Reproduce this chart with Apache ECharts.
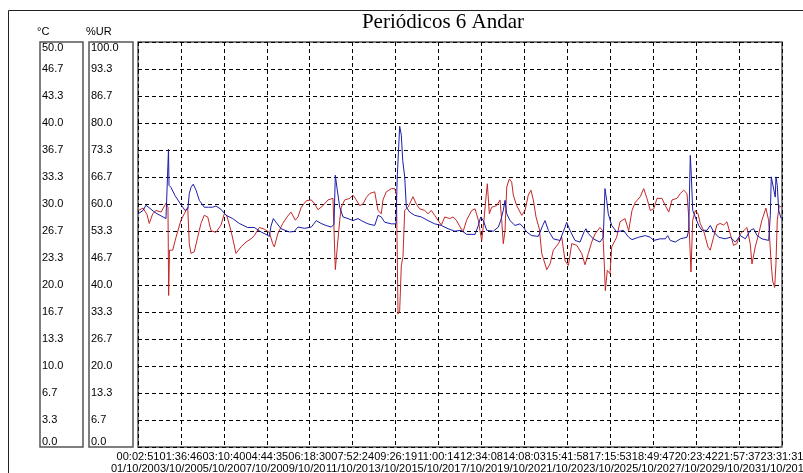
<!DOCTYPE html>
<html>
<head>
<meta charset="utf-8">
<title>Periódicos 6 Andar</title>
<script src="https://cdn.jsdelivr.net/npm/echarts@6/dist/echarts.min.js"></script>
<style>
html, body { margin: 0; padding: 0; background: #fff; }
#chart { width: 803px; height: 473px; }
</style>
</head>
<body>
<div id="chart"></div>
<script>
// x = hours since 01/10 00:02:51, last sample 31/10 23:31:31
var spanHours = 743.478;

var timeLabels = ['00:02:51', '01:36:46', '03:10:40', '04:44:35', '06:18:30', '07:52:24', '09:26:19', '11:00:14',
  '12:34:08', '14:08:03', '15:41:58', '17:15:53', '18:49:47', '20:23:42', '21:57:37', '23:31:31'];
var dateLabels = ['01/10/2011', '03/10/2011', '05/10/2011', '07/10/2011', '09/10/2011', '11/10/2011', '13/10/2011', '15/10/2011',
  '17/10/2011', '19/10/2011', '21/10/2011', '23/10/2011', '25/10/2011', '27/10/2011', '29/10/2011', '31/10/2011'];
var tempTicks = ['0.0', '3.3', '6.7', '10.0', '13.3', '16.7', '20.0', '23.3', '26.7', '30.0', '33.3', '36.7', '40.0', '43.3', '46.7', '50.0'];
var humTicks = ['0.0', '6.7', '13.3', '20.0', '26.7', '33.3', '40.0', '46.7', '53.3', '60.0', '66.7', '73.3', '80.0', '86.7', '93.3', '100.0'];

// temperatura (°C)
var tempData = [[0.3,29.2],[5.8,29.5],[10.4,28.7],[13.0,27.6],[17.0,28.8],[20.8,29.2],[26.6,29.0],[32.3,30.1],[34.6,29.6],[35.4,18.7],
  [36.4,24.3],[40.1,24.3],[43.9,25.9],[49.6,28.0],[53.5,28.8],[57.4,29.6],[59.2,25.1],[61.2,23.9],[65.0,24.1],[68.9,25.9],
  [72.7,27.6],[76.5,28.6],[80.5,28.4],[84.3,26.7],[90.0,26.5],[95.8,27.4],[99.6,28.8],[102.4,28.6],[107.4,26.7],[113.1,23.9],
  [118.9,24.7],[124.7,25.3],[130.5,25.7],[134.3,26.1],[140.0,27.1],[145.8,26.9],[151.6,26.5],[155.5,25.1],[157.4,24.7],[161.3,26.3],
  [167.1,27.6],[172.8,28.5],[176.6,29.0],[181.6,28.0],[184.7,28.4],[188.5,29.6],[194.3,30.4],[200.1,30.5],[204.0,30.0],[207.8,29.3],
  [213.6,29.8],[219.3,30.5],[225.1,30.7],[227.8,21.9],[230.1,24.7],[232.9,28.0],[234.7,29.6],[238.6,30.5],[244.4,30.7],[248.2,31.1],
  [252.0,30.5],[255.9,29.8],[259.7,30.0],[263.6,30.8],[267.5,31.3],[273.3,31.5],[277.1,29.2],[280.9,28.8],[282.8,30.5],[286.6,31.5],
  [292.4,31.9],[296.4,31.9],[298.4,31.1],[300.2,16.4],[302.1,16.8],[304.0,22.4],[305.9,23.5],[307.9,29.2],[311.7,29.6],[317.5,30.9],
  [321.3,30.0],[325.2,29.4],[331.0,29.2],[334.8,28.8],[338.6,29.2],[342.5,28.6],[346.3,28.0],[350.2,27.4],[354.1,28.4],[359.9,28.2],
  [363.7,28.4],[367.5,28.0],[373.2,26.9],[375.6,26.7],[379.4,28.0],[385.2,29.2],[389.1,29.4],[392.9,28.0],[394.8,26.7],[396.8,25.5],
  [399.4,28.0],[401.8,30.9],[403.3,32.5],[405.6,28.8],[408.3,29.6],[414.1,29.8],[417.9,30.5],[419.9,28.0],[421.7,25.1],[423.7,26.7],
  [425.7,32.1],[428.7,33.1],[431.4,32.7],[433.3,31.1],[437.2,29.8],[443.0,28.6],[446.8,29.2],[450.6,31.1],[453.7,31.7],[456.4,30.5],
  [459.5,28.4],[463.4,26.9],[466.1,23.9],[469.9,22.6],[471.9,21.9],[475.7,22.6],[479.5,24.3],[485.3,25.1],[489.2,25.9],[493.0,23.0],
  [496.9,22.4],[500.7,25.1],[506.5,24.9],[512.2,23.9],[516.1,22.5],[519.9,23.9],[523.8,25.3],[527.6,26.3],[533.3,27.1],[536.5,26.7],
  [538.0,23.4],[539.5,19.3],[541.8,21.8],[544.9,21.4],[546.9,24.7],[550.7,25.5],[552.6,25.9],[556.5,27.8],[562.2,28.2],[566.5,26.7],
  [570.3,29.2],[574.1,30.2],[579.9,30.9],[583.8,31.9],[587.6,30.7],[591.4,29.2],[595.4,29.4],[599.2,30.7],[604.9,30.7],[608.8,29.8],
  [612.7,29.0],[616.5,30.5],[622.3,30.7],[626.1,31.3],[630.0,31.7],[633.8,31.3],[635.8,28.4],[638.4,21.6],[640.4,28.0],[643.4,29.2],
  [646.5,28.8],[649.1,27.6],[653.0,26.7],[658.0,24.7],[660.6,24.3],[664.5,25.9],[668.3,27.4],[672.1,27.6],[676.1,27.4],[679.9,27.8],
  [683.7,26.3],[687.6,24.9],[691.4,25.1],[695.3,26.3],[699.2,26.7],[703.0,27.1],[706.8,25.1],[708.8,22.6],[712.6,24.7],[716.5,26.3],
  [720.3,28.0],[724.9,29.5],[728.0,28.0],[731.0,22.6],[732.7,20.5],[735.0,19.7],[736.5,22.6],[738.0,28.0],[740.3,29.8],[742.6,29.6]];

// umidade relativa (%UR)
var humData = [[0.3,57.6],[5.8,58.4],[9.2,59.7],[13.9,58.9],[19.6,57.9],[25.4,57.2],[32.3,56.4],[34.6,56.2],[35.2,73.5],[35.8,64.6],
  [38.1,64.1],[42.7,62.1],[48.5,60.2],[54.3,58.4],[57.7,58.9],[59.2,62.6],[61.2,64.1],[63.8,64.9],[67.0,63.4],[70.8,60.9],
  [76.5,59.2],[81.2,59.2],[86.2,59.2],[90.0,59.5],[95.8,58.7],[101.6,57.2],[109.3,56.4],[116.9,55.2],[126.6,54.2],[134.3,54.2],
  [142.0,53.1],[147.8,52.5],[151.6,52.0],[153.5,54.5],[156.2,56.4],[159.3,55.5],[165.1,53.9],[174.7,53.1],[180.1,53.2],[184.7,54.3],
  [192.4,54.0],[200.1,54.3],[205.8,55.9],[211.3,55.2],[217.0,54.7],[223.2,54.3],[226.3,55.0],[227.8,67.1],[230.1,63.4],[232.9,59.2],
  [236.7,56.8],[242.5,56.4],[248.2,55.9],[254.0,56.4],[257.8,55.9],[265.5,55.1],[273.3,54.7],[277.1,57.2],[280.9,56.8],[284.8,55.5],
  [292.4,55.1],[297.8,55.1],[299.3,66.7],[302.1,79.2],[304.0,77.0],[305.6,70.8],[307.9,66.7],[309.8,59.2],[313.7,58.0],[319.4,57.2],
  [327.1,56.8],[334.8,55.9],[342.5,55.1],[350.2,54.7],[357.9,53.9],[365.6,53.3],[373.2,53.5],[379.4,52.5],[389.1,52.5],[392.9,54.7],
  [395.6,56.8],[398.7,55.9],[402.6,53.5],[410.2,53.3],[416.0,54.3],[418.7,55.9],[421.7,58.4],[423.7,60.9],[425.7,57.6],[429.5,55.9],
  [435.2,54.7],[441.0,55.1],[444.8,54.3],[448.7,53.1],[454.5,52.2],[462.1,52.0],[467.2,54.7],[469.9,55.9],[473.7,53.5],[479.5,51.4],
  [487.2,51.0],[493.0,54.3],[494.9,55.5],[498.7,53.5],[504.5,51.0],[510.3,50.6],[514.9,53.1],[517.2,53.9],[519.9,52.7],[525.6,51.4],
  [533.3,50.6],[537.2,51.8],[539.1,63.8],[541.1,60.9],[542.9,57.6],[546.9,54.7],[552.6,53.1],[560.3,53.5],[566.5,51.8],[570.3,51.2],
  [578.1,51.8],[585.7,52.2],[591.4,51.8],[595.4,51.0],[602.6,51.4],[608.8,51.4],[611.5,52.2],[614.5,51.0],[620.3,50.6],[626.1,51.4],
  [633.8,51.8],[635.8,53.5],[637.6,72.0],[638.8,67.1],[640.4,58.4],[643.4,56.8],[647.3,54.7],[651.1,53.5],[656.9,53.5],[660.7,54.7],
  [664.6,53.1],[670.4,51.8],[677.7,51.4],[683.8,51.8],[689.6,50.6],[695.4,52.2],[701.2,51.4],[706.9,53.5],[710.8,53.9],[714.7,52.2],
  [720.4,51.4],[728.1,51.0],[730.0,57.2],[731.1,66.7],[733.1,66.3],[735.7,61.7],[736.5,66.7],[738.0,64.6],[739.7,58.4],[742.6,56.4]];

var labelFont = 'Liberation Sans, Arial, sans-serif';
var gridLine = { show: true, lineStyle: { color: '#000', width: 1, type: [4, 3] } };

function boxAxis(idx, name, max, ticks) {
  return {
    gridIndex: idx,
    type: 'value',
    min: 0,
    max: max,
    interval: max / 15,
    name: name,
    nameLocation: 'end',
    nameGap: 5,
    nameTextStyle: { align: 'left', color: '#000', fontSize: 11, fontFamily: labelFont, padding: [0, 0, 0, -3] },
    axisLine: { show: false },
    axisTick: { show: false },
    splitLine: { show: false },
    axisLabel: {
      inside: true,
      margin: 2,
      color: '#000',
      fontSize: 11,
      fontFamily: labelFont,
      verticalAlignMinLabel: 'bottom',
      verticalAlignMaxLabel: 'top',
      formatter: function (v, i) { return ticks[i] || ''; }
    }
  };
}

// time axis of the main grid; each copy writes only some of the tick labels so
// that later labels are painted over the tail of the earlier ones, as in the original
function timeAxis(first, last, z, showGrid) {
  return {
    gridIndex: 0,
    type: 'value',
    position: 'bottom',
    z: z,
    min: 0,
    max: spanHours,
    interval: spanHours / 15,
    axisLine: { show: false },
    axisTick: { show: false },
    splitLine: showGrid ? gridLine : { show: false },
    axisLabel: {
      margin: 4,
      showMinLabel: true,
      showMaxLabel: true,
      formatter: function (v, i) {
        if (i < first || i > last || !timeLabels[i]) return '';
        return '{t|' + timeLabels[i] + '}\n{d|' + dateLabels[i] + '}';
      },
      rich: {
        t: { fontSize: 11, fontFamily: labelFont, color: '#000', backgroundColor: '#fff', lineHeight: 12 },
        d: { fontSize: 11, fontFamily: labelFont, color: '#000', backgroundColor: '#fff', lineHeight: 12 }
      }
    }
  };
}

var chart = echarts.init(document.getElementById('chart'));
chart.setOption({
  backgroundColor: '#fff',
  animation: false,
  title: {
    text: 'Periódicos 6 Andar',
    left: 438,
    top: 7,
    textAlign: 'center',
    textStyle: { fontFamily: 'Liberation Serif, Times New Roman, serif', fontSize: 21, fontWeight: 'normal', color: '#000' }
  },
  graphic: [{
    type: 'rect',
    z: -1,
    shape: { x: 8.5, y: 10.5, width: 800, height: 470 },
    style: { fill: 'none', stroke: '#222', lineWidth: 1 }
  }],
  grid: [
    { left: 138, top: 42, width: 644, height: 405, show: true, borderColor: '#555', borderWidth: 1.5, outerBoundsMode: 'none' },
    { left: 40, top: 42, width: 43, height: 405, show: true, borderColor: '#555', borderWidth: 1.5, outerBoundsMode: 'none' },
    { left: 89, top: 42, width: 44, height: 405, show: true, borderColor: '#555', borderWidth: 1.5, outerBoundsMode: 'none' }
  ],
  xAxis: [
    timeAxis(1, 14, 1, true),
    { gridIndex: 1, type: 'value', show: false },
    { gridIndex: 2, type: 'value', show: false },
    timeAxis(0, 0, 0, false),
    timeAxis(15, 15, 2, false)
  ],
  yAxis: [
    {
      gridIndex: 0, type: 'value', min: 0, max: 50, interval: 50 / 15,
      axisLine: { show: false }, axisTick: { show: false }, axisLabel: { show: false },
      splitLine: gridLine
    },
    {
      gridIndex: 0, type: 'value', min: 0, max: 100, interval: 100 / 15, position: 'right',
      show: false, splitLine: { show: false }
    },
    boxAxis(1, '°C', 50, tempTicks),
    boxAxis(2, '%UR', 100, humTicks)
  ],
  series: [
    {
      name: '°C',
      type: 'line',
      xAxisIndex: 0,
      yAxisIndex: 0,
      showSymbol: false,
      lineStyle: { color: '#c42828', width: 1 },
      data: tempData
    },
    {
      name: '%UR',
      type: 'line',
      xAxisIndex: 0,
      yAxisIndex: 1,
      showSymbol: false,
      lineStyle: { color: '#1c1ca8', width: 1 },
      data: humData
    }
  ]
});
</script>
</body>
</html>
